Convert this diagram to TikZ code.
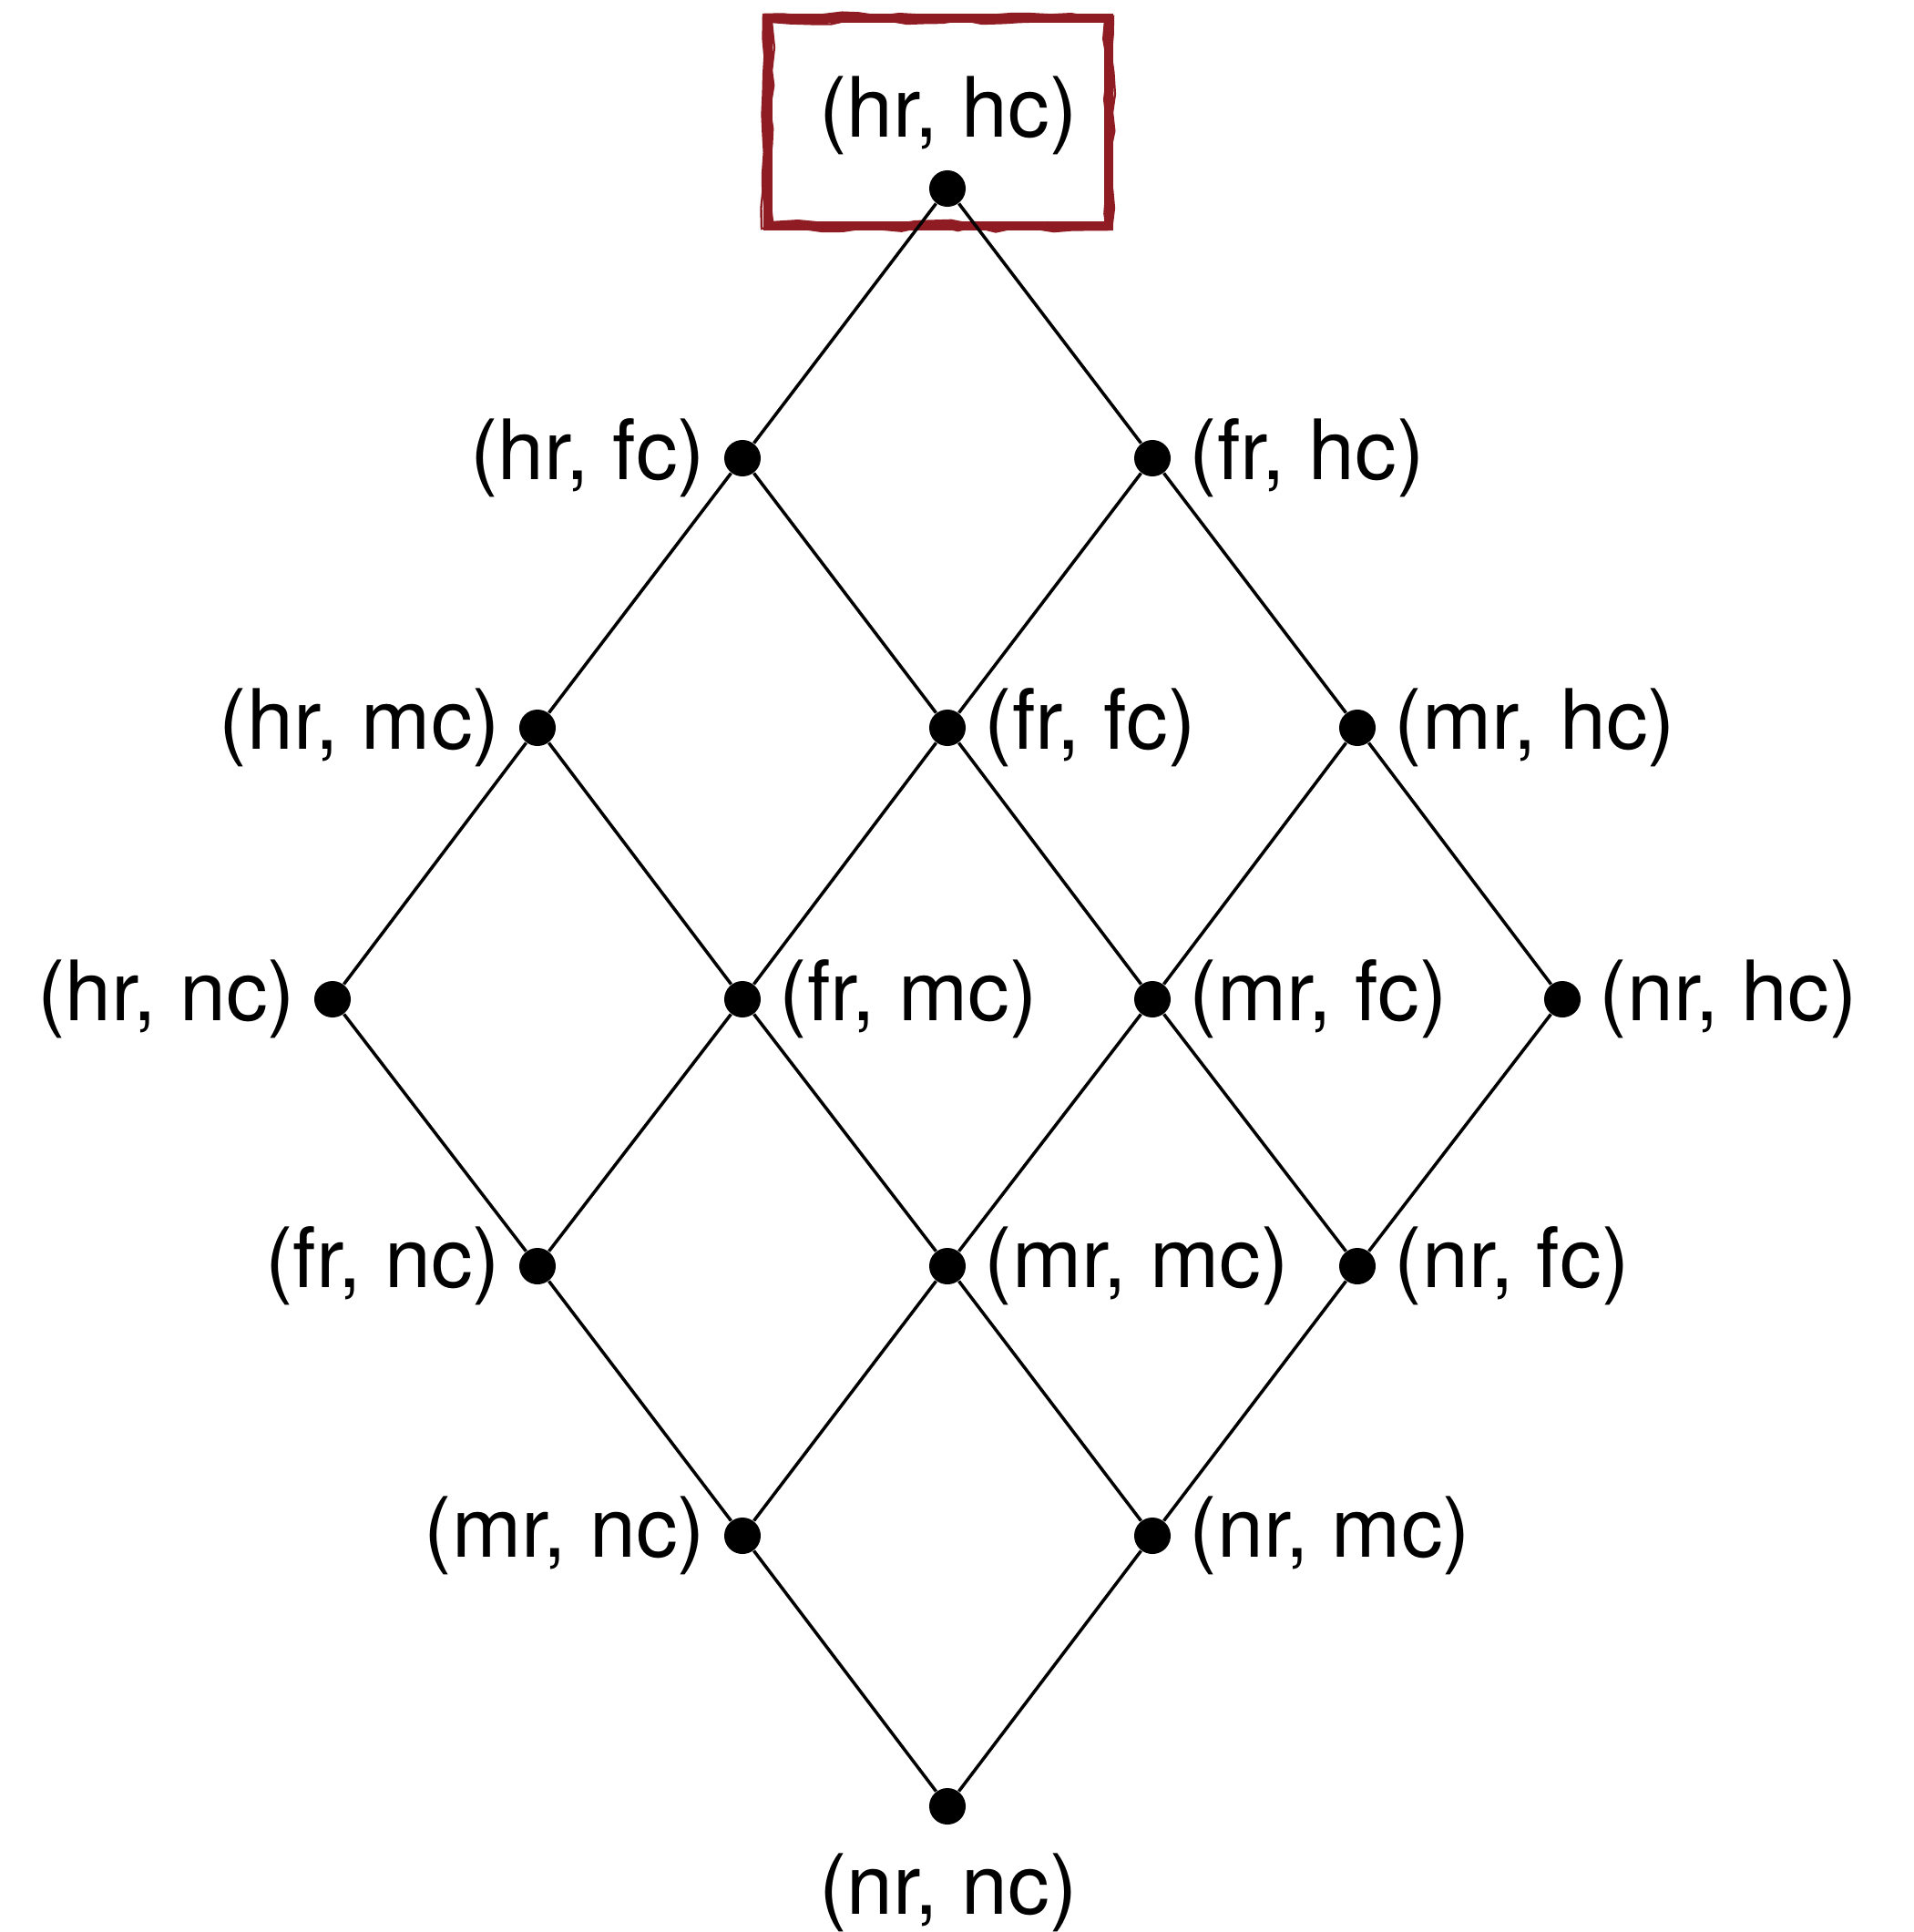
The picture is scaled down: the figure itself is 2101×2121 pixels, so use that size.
\documentclass[tikz,border=0pt]{standalone}
\usepackage{fontspec}
\setmainfont{TeX Gyre Heros}
\usetikzlibrary{decorations.pathmorphing}
\definecolor{boxred}{RGB}{142,28,34}
\begin{document}
\begin{tikzpicture}[x={(0.01cm,0)},y={(0,-0.01cm)},
  dot/.style={circle,fill=black,draw=none,minimum size=0.40cm,inner sep=0pt},
  lab/.style={inner sep=0pt,font=\fontsize{26pt}{30pt}\selectfont},
  edge/.style={line width=1pt,black},
  rough/.style={boxred,line width=0.7pt,decorate,decoration={random steps,segment length=6pt,amplitude=0.8pt}}]
\pgfmathsetseed{7}
\useasboundingbox (0,0) rectangle (2101,2121);
% red box
\draw[boxred,line width=2.8pt] (843,20) rectangle (1217,248);
\draw[rough] (838,16) -- (1222,18) -- (1220,252) -- (836,251) -- cycle;
\draw[rough] (847,24) -- (1213,23) -- (1214,245) -- (848,244) -- cycle;
% dots
\node[dot] (hrhc) at (1040,207) {};
\node[dot] (hrfc) at (815,503) {};
\node[dot] (frhc) at (1265,503) {};
\node[dot] (hrmc) at (590,799) {};
\node[dot] (frfc) at (1040,799) {};
\node[dot] (mrhc) at (1490,799) {};
\node[dot] (hrnc) at (365,1097) {};
\node[dot] (frmc) at (815,1097) {};
\node[dot] (mrfc) at (1265,1097) {};
\node[dot] (nrhc) at (1715,1097) {};
\node[dot] (frnc) at (590,1390) {};
\node[dot] (mrmc) at (1040,1390) {};
\node[dot] (nrfc) at (1490,1390) {};
\node[dot] (mrnc) at (815,1686) {};
\node[dot] (nrmc) at (1265,1686) {};
\node[dot] (nrnc) at (1040,1983) {};
% edges
\foreach \a/\b in {hrhc/hrfc,hrhc/frhc,hrfc/hrmc,hrfc/frfc,frhc/frfc,frhc/mrhc,
  hrmc/hrnc,hrmc/frmc,frfc/frmc,frfc/mrfc,mrhc/mrfc,mrhc/nrhc,
  hrnc/frnc,frmc/frnc,frmc/mrmc,mrfc/mrmc,mrfc/nrfc,nrhc/nrfc,
  frnc/mrnc,mrmc/mrnc,mrmc/nrmc,nrfc/nrmc,mrnc/nrnc,nrmc/nrnc}
  \draw[edge] (\a) -- (\b);
% labels
\node[lab] (l-hrhc) at (1041,127) {(hr, hc)};
\node[lab] (l-nrnc) at (1041,2078) {(nr, nc)};
\node[lab,anchor=east] (l-hrfc) at ([xshift=-0.4cm]hrfc.center) {(hr, fc)};
\node[lab,anchor=east] (l-hrmc) at ([xshift=-0.4cm]hrmc.center) {(hr, mc)};
\node[lab,anchor=east] (l-hrnc) at ([xshift=-0.4cm]hrnc.center) {(hr, nc)};
\node[lab,anchor=east] (l-frnc) at ([xshift=-0.4cm]frnc.center) {(fr, nc)};
\node[lab,anchor=east] (l-mrnc) at ([xshift=-0.4cm]mrnc.center) {(mr, nc)};
\node[lab,anchor=west] (l-frhc) at ([xshift=0.4cm]frhc.center) {(fr, hc)};
\node[lab,anchor=west] (l-frfc) at ([xshift=0.4cm]frfc.center) {(fr, fc)};
\node[lab,anchor=west] (l-mrhc) at ([xshift=0.4cm]mrhc.center) {(mr, hc)};
\node[lab,anchor=west] (l-frmc) at ([xshift=0.4cm]frmc.center) {(fr, mc)};
\node[lab,anchor=west] (l-mrfc) at ([xshift=0.4cm]mrfc.center) {(mr, fc)};
\node[lab,anchor=west] (l-nrhc) at ([xshift=0.4cm]nrhc.center) {(nr, hc)};
\node[lab,anchor=west] (l-mrmc) at ([xshift=0.4cm]mrmc.center) {(mr, mc)};
\node[lab,anchor=west] (l-nrfc) at ([xshift=0.4cm]nrfc.center) {(nr, fc)};
\node[lab,anchor=west] (l-nrmc) at ([xshift=0.4cm]nrmc.center) {(nr, mc)};
\end{tikzpicture}
\end{document}
